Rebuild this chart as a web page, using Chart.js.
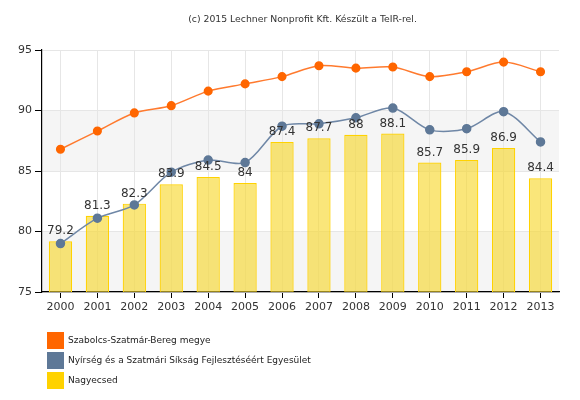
<!DOCTYPE html>
<html>
<head>
<meta charset="utf-8">
<script src="https://cdn.jsdelivr.net/npm/chart.js@4"></script>
<style>
  html, body { margin: 0; padding: 0; background: #fff; }
  #wrap { width: 580px; height: 400px; }
</style>
</head>
<body>
<div id="wrap"><canvas id="myChart" width="580" height="400"></canvas></div>
<script>
const years = ['2000', '2001', '2002', '2003', '2004', '2005', '2006', '2007', '2008', '2009', '2010', '2011', '2012', '2013'];
const megye = [86.8, 88.3, 89.8, 90.4, 91.6, 92.2, 92.8, 93.7, 93.5, 93.6, 92.8, 93.2, 94.0, 93.2];
const egyesulet = [79.0, 81.1, 82.2, 84.9, 85.9, 85.7, 88.7, 88.9, 89.4, 90.2, 88.4, 88.5, 89.9, 87.4];
const nagyecsed = [79.2, 81.3, 82.3, 83.9, 84.5, 84, 87.4, 87.7, 88, 88.1, 85.7, 85.9, 86.9, 84.4];
const yTicks = [75, 80, 85, 90, 95];

const FONT = 'DejaVu Sans, Verdana, sans-serif';
const legendItems = [
  { text: 'Szabolcs-Szatmár-Bereg megye', color: '#ff6600' },
  { text: 'Nyírség és a Szatmári Síkság Fejlesztéséért Egyesület', color: '#5e7897' },
  { text: 'Nagyecsed', color: '#ffd200' }
];

// szürke sávok a háttérben (75-80, 85-90)
const bandsPlugin = {
  id: 'bands',
  beforeDraw(chart) {
    const { ctx, chartArea, scales } = chart;
    const y = scales.y;
    ctx.save();
    ctx.fillStyle = '#f5f5f5';
    [[75, 80], [85, 90]].forEach(function(b) {
      const top = y.getPixelForValue(b[1]);
      const bottom = y.getPixelForValue(b[0]);
      ctx.fillRect(chartArea.left, top, chartArea.right - chartArea.left, bottom - top);
    });
    ctx.restore();
  }
};

// oszlopok feletti értékek, cím és jelmagyarázat
const labelsPlugin = {
  id: 'labels',
  afterDatasetsDraw(chart) {
    const ctx = chart.ctx;
    const meta = chart.getDatasetMeta(2);
    ctx.save();
    ctx.font = '12px ' + FONT;
    ctx.fillStyle = '#333';
    ctx.textAlign = 'center';
    ctx.textBaseline = 'bottom';
    meta.data.forEach(function(bar, i) {
      ctx.fillText(String(nagyecsed[i]), bar.x, bar.y - 4);
    });
    ctx.restore();
  },
  afterDraw(chart) {
    const ctx = chart.ctx;
    const area = chart.chartArea;
    ctx.save();
    ctx.font = '9.3px ' + FONT;
    ctx.fillStyle = '#333';
    ctx.textAlign = 'center';
    ctx.textBaseline = 'middle';
    ctx.fillText('(c) 2015 Lechner Nonprofit Kft. Készült a TeIR-rel.', (area.left + area.right) / 2 + 2, 20);

    ctx.font = '9px ' + FONT;
    ctx.textAlign = 'left';
    legendItems.forEach(function(item, i) {
      const top = 332 + i * 20;
      ctx.fillStyle = item.color;
      ctx.fillRect(47, top, 17, 17);
      ctx.fillStyle = '#222';
      ctx.fillText(item.text, 68, top + 9);
    });
    ctx.restore();
  }
};

const ctx = document.getElementById('myChart');
const chart = new Chart(ctx, {
  type: 'bar',
  data: {
    labels: years,
    datasets: [
      {
        type: 'line',
        label: 'Szabolcs-Szatmár-Bereg megye',
        data: megye,
        borderColor: '#ff7a2e',
        backgroundColor: '#ff6600',
        pointBackgroundColor: '#ff6600',
        pointBorderColor: '#ff6600',
        borderWidth: 1.5,
        pointRadius: 3.8,
        tension: 0.3,
        order: 1
      },
      {
        type: 'line',
        label: 'Nyírség és a Szatmári Síkság Fejlesztéséért Egyesület',
        data: egyesulet,
        borderColor: '#6f87a6',
        backgroundColor: '#5e7897',
        pointBackgroundColor: '#5e7897',
        pointBorderColor: '#5e7897',
        borderWidth: 1.5,
        pointRadius: 4,
        tension: 0.3,
        order: 2
      },
      {
        label: 'Nagyecsed',
        data: nagyecsed,
        backgroundColor: 'rgba(247, 214, 40, 0.62)',
        borderColor: '#ffd200',
        borderWidth: 1.2,
        categoryPercentage: 1,
        barPercentage: 0.63,
        order: 3
      }
    ]
  },
  plugins: [bandsPlugin, labelsPlugin],
  options: {
    responsive: false,
    animation: false,
    layout: { padding: { top: 50, right: 21, bottom: 86, left: 0 } },
    plugins: {
      legend: { display: false },
      tooltip: { enabled: false }
    },
    scales: {
      x: {
        afterFit(scale) { scale.height = 22; },
        grid: {
          offset: false,
          color: '#e6e6e6',
          tickColor: '#000',
          tickLength: 6
        },
        border: { color: '#000', width: 1.2 },
        ticks: { color: '#333', font: { family: FONT, size: 11 }, padding: 3, maxRotation: 0 }
      },
      y: {
        min: 75,
        max: 95,
        afterFit(scale) { scale.width = 42; },
        afterBuildTicks(scale) { scale.ticks = yTicks.map(function(v) { return { value: v }; }); },
        grid: {
          color: '#e6e6e6',
          tickColor: '#000',
          tickLength: 7
        },
        border: { color: '#000', width: 1.2 },
        ticks: { color: '#333', font: { family: FONT, size: 11 }, padding: 3 }
      }
    }
  }
});
</script>
</body>
</html>
